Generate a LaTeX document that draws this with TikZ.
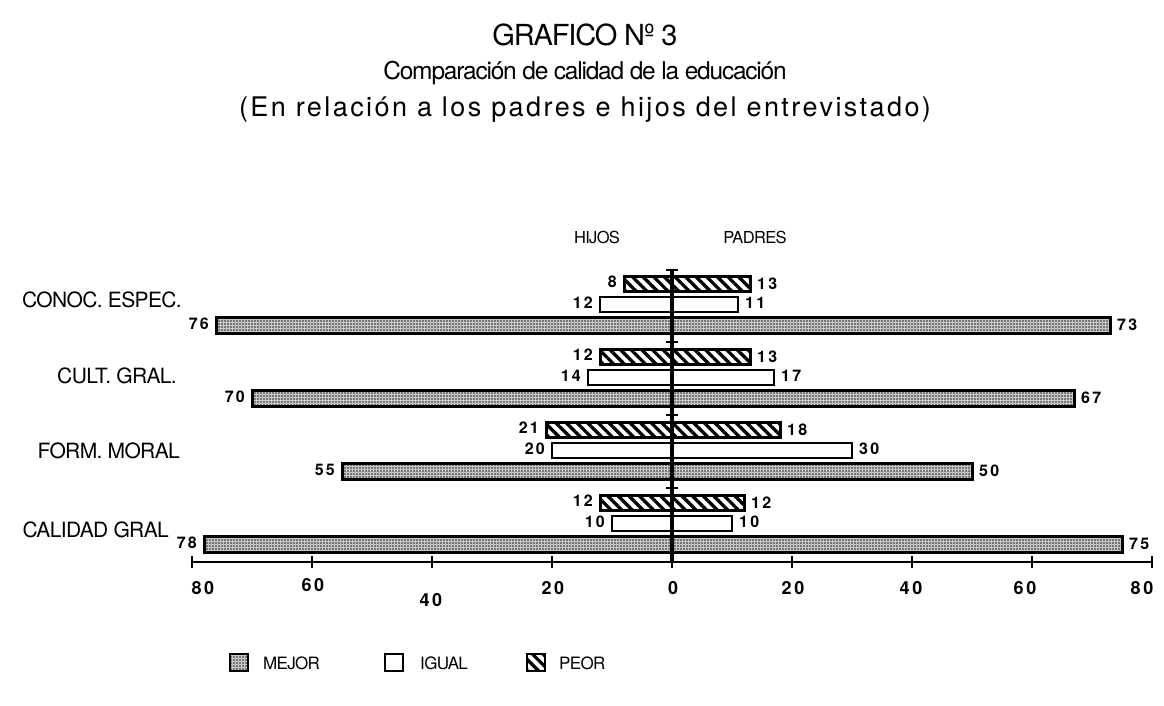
\documentclass[tikz,border=0pt]{standalone}
\usepackage{fontspec}
\setmainfont{TeX Gyre Heros}
\newfontfamily\valfont[LetterSpace=14]{TeX Gyre Heros}
\newfontfamily\widefont[LetterSpace=9]{TeX Gyre Heros}
\newfontfamily\tightfont[LetterSpace=-4]{TeX Gyre Heros}
\newfontfamily\catfont[LetterSpace=-3]{TeX Gyre Heros}
\newfontfamily\subfont[LetterSpace=-5]{TeX Gyre Heros}
\usetikzlibrary{patterns.meta}
\begin{document}
\begin{tikzpicture}[x=1pt,y=-1pt,
  mejor/.style={draw=black,line width=3pt,preaction={fill=black!22},pattern={Dots[distance=3pt,radius=0.85pt]},pattern color=black!85},
  igual/.style={draw=black,line width=2.4pt,fill=white},
  peor/.style={draw=black,line width=3pt,pattern={Lines[angle=-45,distance=7.5pt,line width=3.3pt]}},
  val/.style={font=\valfont\bfseries\fontsize{16}{16}\selectfont,inner sep=0pt},
  cat/.style={font=\catfont\fontsize{21}{21}\selectfont,anchor=east,inner sep=0pt},
  tick/.style={font=\valfont\bfseries\fontsize{18}{18}\selectfont,inner sep=0pt},
  head/.style={font=\tightfont\fontsize{16.5}{16.5}\selectfont,inner sep=0pt},
  leg/.style={font=\tightfont\fontsize{17}{17}\selectfont,anchor=west,inner sep=0pt},
  axisline/.style={line width=2.6pt,line cap=round}]
\useasboundingbox (0,0) rectangle (1164,705);
\fill[white] (0,0) rectangle (1164,705);
% titles
\node[font=\tightfont\fontsize{29}{29}\selectfont] (t1) at (585,35) {GRAFICO Nº 3};
\node[font=\subfont\fontsize{24.5}{24.5}\selectfont] (t2) at (585,73) {Comparación de calidad de la educación};
\node[font=\widefont\fontsize{27}{27}\selectfont] (t3) at (585,110) {(En relación a los padres e hijos del entrevistado)};
\node[head] (hijos) at (597,237) {HIJOS};
\node[head] (padres) at (755,237) {PADRES};
% bars
\foreach \g/\ph/\pp/\ih/\ip/\mh/\mp [count=\i] in {276/8/13/12/11/76/73, 349/12/13/14/17/70/67, 422/21/18/20/30/55/50, 495/12/12/10/10/78/75}{
  \draw[peor]  ({672-6*\ph},{\g+0.5}) rectangle ({672+6*\pp},{\g+15.5});
  \draw[igual] ({672-6*\ih},{\g+21}) rectangle ({672+6*\ip},{\g+36});
  \draw[mejor] ({672-6*\mh},{\g+41}) rectangle ({672+6*\mp},{\g+57});
  \node[val,anchor=east] (pl\i) at ({672-6*\ph-7},{\g+6}) {\ph};
  \node[val,anchor=west] (pr\i) at ({672+6*\pp+7},{\g+8}) {\pp};
  \node[val,anchor=east] (il\i) at ({672-6*\ih-7},{\g+27}) {\ih};
  \node[val,anchor=west] (ir\i) at ({672+6*\ip+7},{\g+27}) {\ip};
  \node[val,anchor=east] (ml\i) at ({672-6*\mh-7},{\g+48}) {\mh};
  \node[val,anchor=west] (mr\i) at ({672+6*\mp+7},{\g+49}) {\mp};
}
% vertical axis
\draw[line width=4pt] (672,270) -- (672,562);
\foreach \yy in {270,342,415,488}{
  \draw[line width=2pt] (666,\yy) -- (678,\yy);
}
% horizontal axis
\draw[axisline] (192,562) -- (1152,562);
\foreach \k in {0,...,8}{
  \draw[line width=2.4pt] ({192+120*\k},556) -- ({192+120*\k},568);
}
\node[tick] (x0) at (203,588) {80};
\node[tick] (x1) at (313,585) {60};
\node[tick] (x2) at (431,600) {40};
\node[tick] (x3) at (553,588) {20};
\node[tick] (x4) at (673,588) {0};
\node[tick] (x5) at (793,588) {20};
\node[tick] (x6) at (911,588) {40};
\node[tick] (x7) at (1025,588) {60};
\node[tick] (x8) at (1142,588) {80};
% categories
\node[cat] (c1) at (182,300) {CONOC. ESPEC.};
\node[cat] (c2) at (177,376) {CULT. GRAL.};
\node[cat] (c3) at (180,451) {FORM. MORAL};
\node[cat] (c4) at (169,530) {CALIDAD GRAL};
% legend
\draw[mejor,line width=2.2pt] (230,654) rectangle (248,671);
\node[leg] (lm) at (263,663) {MEJOR};
\draw[igual] (385,654) rectangle (403,671);
\node[leg] (li) at (420,663) {IGUAL};
\draw[peor,line width=2.2pt] (527,654) rectangle (545,671);
\node[leg] (lp) at (559,663) {PEOR};
\end{tikzpicture}
\end{document}
